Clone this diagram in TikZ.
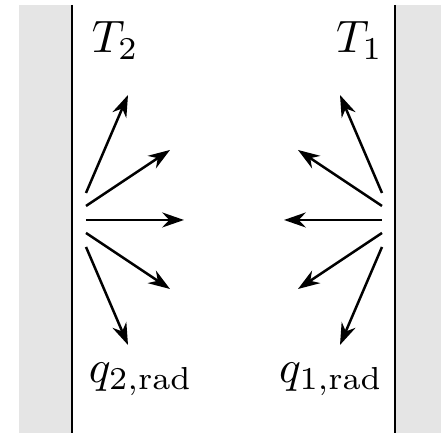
\documentclass[tikz,border=0pt]{standalone}
\usepackage{amsmath}
\usetikzlibrary{arrows.meta}
\definecolor{wallGray}{RGB}{229,229,229}

\begin{document}
\begin{tikzpicture}[
      x=0.22pt, y=-0.22pt,
      wall/.style={fill=wallGray, draw=none},
      wallline/.style={line width=0.65pt, black},
      ray/.style={-{Stealth[length=4.8pt, width=3.3pt]}, line width=0.55pt}
    ]
      \useasboundingbox (0,0) rectangle (441,433);
      % walls
      \fill[wall] (19,5) rectangle (72,433);
      \fill[wall] (395,5) rectangle (441,433);
      \draw[wallline] (72,5) -- (72,433);
      \draw[wallline] (395,5) -- (395,433);
      % temperatures and fluxes
      \node[anchor=base west, inner sep=0pt] (t2) at (91,53) {$T_2$};
      \node[anchor=base east, inner sep=0pt] (t1) at (384,53) {$T_1$};
      \node[anchor=base west, inner sep=0pt] (q2) at (88,383) {$q_{2,\text{rad}}$};
      \node[anchor=base east, inner sep=0pt] (q1) at (384,383) {$q_{1,\text{rad}}$};
      % emitted rays
      \foreach \i/\ys/\xt/\yt in {1/193/128/95, 2/206/170/150, 3/220/184/220, 4/233/170/289, 5/247/128/345} {
        \coordinate (l\i) at (86,\ys);
        \coordinate (lt\i) at (\xt,\yt);
        \coordinate (r\i) at (382,\ys);
        \coordinate (rt\i) at ({468-\xt},\yt);
        \draw[ray] (l\i) -- (lt\i);
        \draw[ray] (r\i) -- (rt\i);
      }
    \end{tikzpicture}
\end{document}
